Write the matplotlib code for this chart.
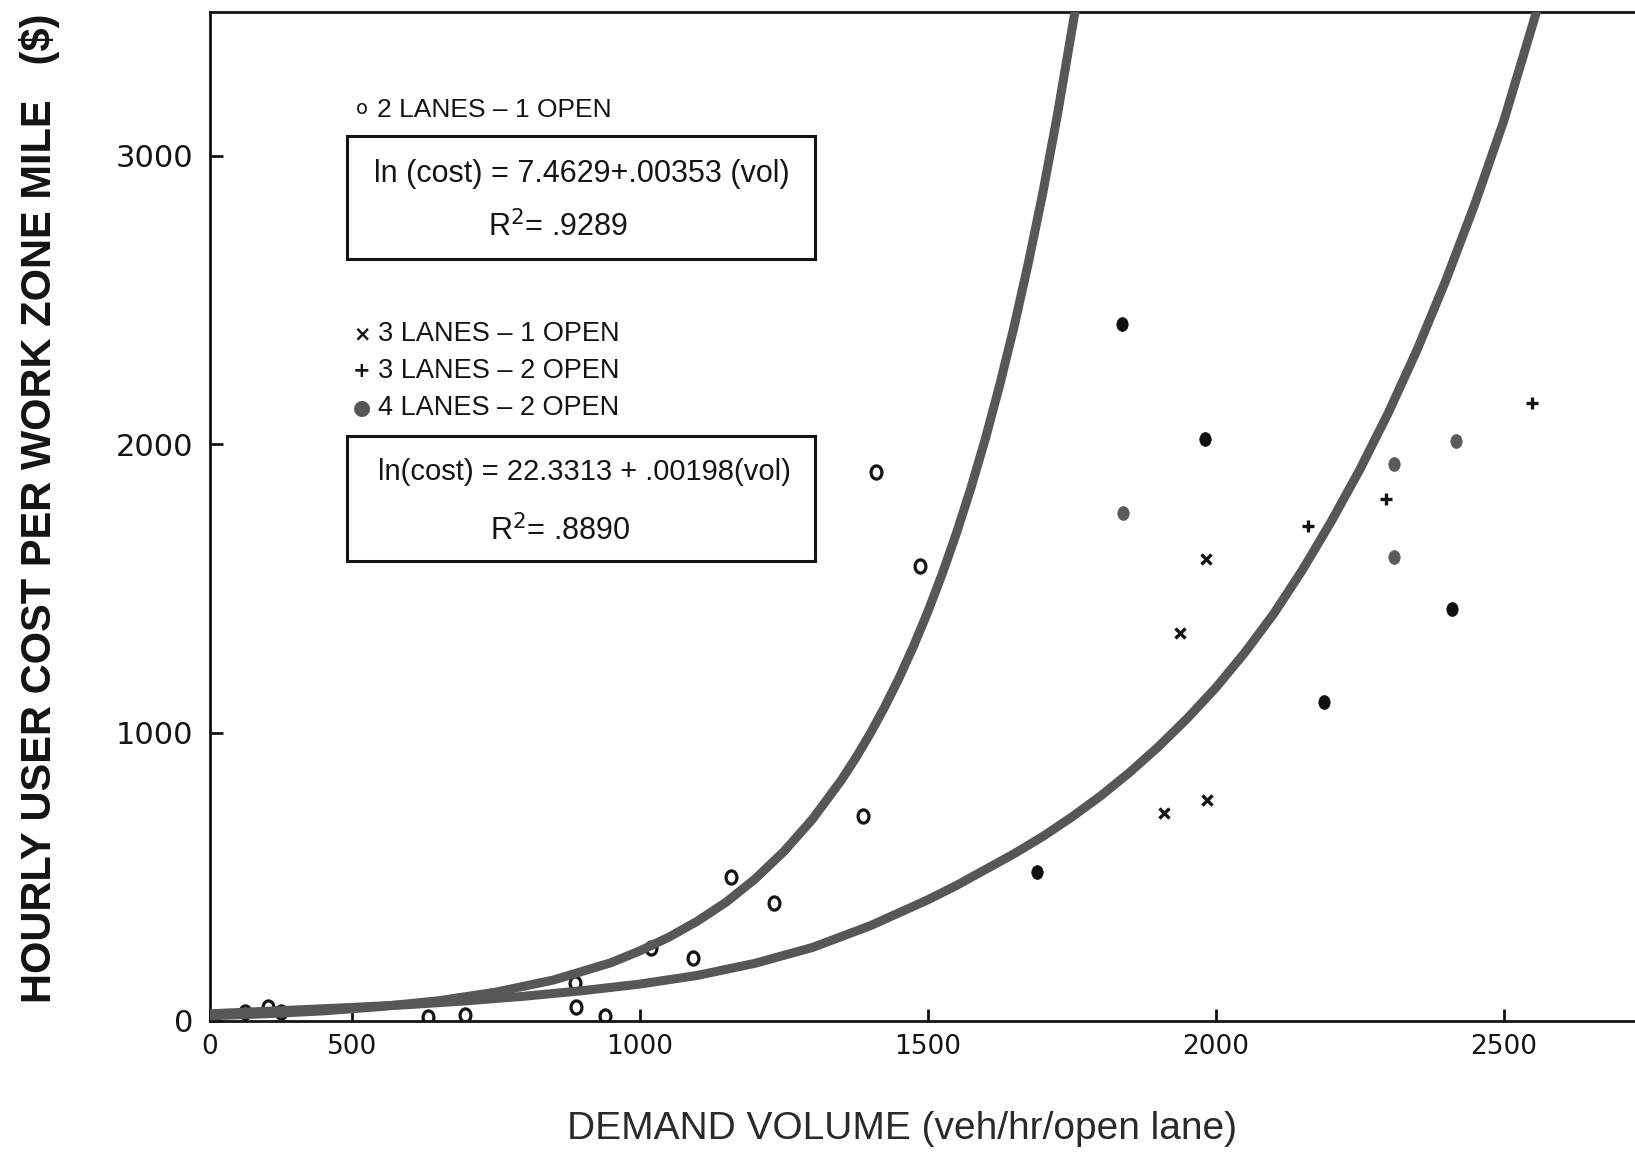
import matplotlib
matplotlib.use("Agg")
import matplotlib.pyplot as plt
from matplotlib.path import Path
from matplotlib.markers import MarkerStyle
from matplotlib.patches import Rectangle
from matplotlib.transforms import Affine2D

# ---------------- data ----------------
vol_2l1o = [314, 355, 378, 632, 696, 887, 890, 939, 1020, 1093, 1159, 1234, 1388, 1410, 1486]
cost_2l1o = [32, 50, 32, 15, 21, 131, 50, 17, 252, 217, 500, 408, 711, 1905, 1578]

vol_3l1o = [1911, 1938, 1983, 1985]
cost_3l1o = [720, 1346, 1601, 766]

vol_3l2o = [2161, 2295, 2550]
cost_3l2o = [1716, 1811, 2142]

vol_4l2o = [1689, 1838, 1982, 2188, 2411, 1839, 2309, 2309, 2418]
cost_4l2o = [518, 2417, 2018, 1107, 1430, 1760, 1930, 1610, 2011]
shade_4l2o = ["dark", "dark", "dark", "dark", "dark", "gray", "gray", "gray", "gray"]

curve1_vol = [254, 350, 450, 550, 650, 750, 850, 950, 1000, 1050, 1100, 1150, 1200, 1250,
              1300, 1350, 1375, 1400, 1425, 1450, 1475, 1500, 1525, 1550, 1575, 1600,
              1625, 1650, 1675, 1700, 1725, 1760]
curve1_cost = [18, 25, 35, 50, 70, 100, 142, 202, 243, 290, 346, 412, 492, 587,
               700, 835, 912, 996, 1088, 1188, 1298, 1418, 1549, 1692, 1848, 2018,
               2205, 2408, 2631, 2873, 3140, 3550]

curve2_vol = [254, 400, 500, 600, 700, 800, 900, 1000, 1100, 1200, 1300, 1400, 1500, 1550,
              1600, 1650, 1700, 1750, 1800, 1850, 1900, 1950, 2000, 2050, 2100, 2150,
              2200, 2250, 2300, 2350, 2400, 2450, 2500, 2560]
curve2_cost = [25, 38, 47, 57, 70, 86, 105, 128, 158, 200, 255, 330, 420, 470,
               525, 580, 640, 707, 780, 861, 950, 1048, 1155, 1276, 1410, 1562,
               1730, 1911, 2110, 2329, 2570, 2833, 3120, 3520]

x_ticks = [254, 500, 1000, 1500, 2000, 2500]
x_tick_labels = ["0", "500", "1000", "1500", "2000", "2500"]
y_ticks = [0, 1000, 2000, 3000]
y_tick_labels = ["0", "1000", "2000", "3000"]

# ---------------- figure ----------------
W, H, DPI = 1635, 1154, 100
fig = plt.figure(figsize=(W / DPI, H / DPI), dpi=DPI)
fig.patch.set_facecolor("white")

def fx(px):
    return px / W

def fy(py):
    return 1 - py / H

ax_left, ax_right, ax_top, ax_bottom = 210, 1660, 12, 1021
ax = fig.add_axes([fx(ax_left), fy(ax_bottom), (ax_right - ax_left) / W, (ax_bottom - ax_top) / H])
ax.set_xlim(254, 254 + (ax_right - ax_left) / 0.576)
ax.set_ylim(0, (ax_bottom - ax_top) / 0.2884)

INK = "#141414"
CURVE = "#575757"
SANS = ["Liberation Sans", "DejaVu Sans"]

# markers
ell = Path.unit_circle().transformed(Affine2D().scale(0.82, 1.0))
ell_marker = MarkerStyle(ell)

ax.plot(vol_2l1o, cost_2l1o, ls="none", marker=ell_marker, ms=9.5, mfc="none",
        mec=INK, mew=2.3, zorder=3)
ax.plot(curve1_vol, curve1_cost, color=CURVE, lw=6.5, solid_capstyle="butt",
        solid_joinstyle="round", zorder=4)
ax.plot(curve2_vol, curve2_cost, color=CURVE, lw=6.5, solid_capstyle="butt",
        solid_joinstyle="round", zorder=4)
ax.plot(vol_3l1o, cost_3l1o, ls="none", marker="x", ms=7, mec=INK, mew=2.4, zorder=5)
ax.plot(vol_3l2o, cost_3l2o, ls="none", marker="+", ms=9, mec=INK, mew=2.4, zorder=5)
dark_v = [v for v, s in zip(vol_4l2o, shade_4l2o) if s == "dark"]
dark_c = [c for c, s in zip(cost_4l2o, shade_4l2o) if s == "dark"]
gray_v = [v for v, s in zip(vol_4l2o, shade_4l2o) if s == "gray"]
gray_c = [c for c, s in zip(cost_4l2o, shade_4l2o) if s == "gray"]
ax.plot(dark_v, dark_c, ls="none", marker=ell_marker, ms=10, mfc="#111111", mec="#111111", mew=0.5, zorder=5)
ax.plot(gray_v, gray_c, ls="none", marker=ell_marker, ms=10, mfc="#5a5a5a", mec="#5a5a5a", mew=0.5, zorder=5)

# spines / ticks
for s in ["left", "top", "bottom"]:
    ax.spines[s].set_linewidth(2.0)
    ax.spines[s].set_color(INK)
ax.spines["right"].set_visible(False)

ax.set_xticks(x_ticks)
ax.set_xticklabels(x_tick_labels)
ax.set_yticks(y_ticks)
ax.set_yticklabels(y_tick_labels)
ax.tick_params(axis="both", direction="in", length=9, width=2, color=INK, colors=INK)
ax.tick_params(axis="x", labelsize=19, pad=9)
ax.tick_params(axis="y", labelsize=22, pad=12)

# axis titles
fig.text(fx(40), fy(508), "HOURLY USER COST PER WORK ZONE MILE   ($)", rotation=90,
         ha="center", va="center", fontsize=30, family=SANS, fontweight="bold", color=INK)
fig.text(fx(902), fy(1129), "DEMAND VOLUME (veh/hr/open lane)", ha="center", va="center",
         fontsize=28, family=SANS, color="#2a2a2a")

# legend-like annotations
fig.text(fx(362), fy(108), "o", ha="center", va="center", fontsize=14, color=INK)
fig.text(fx(377), fy(110), "2 LANES \u2013 1 OPEN", ha="left", va="center", fontsize=19,
         family=SANS, color=INK)
fig.add_artist(Rectangle((fx(347), fy(259)), fx(815) - fx(347), fy(136) - fy(259),
                         transform=fig.transFigure, fill=False, lw=2.2, ec=INK))
fig.text(fx(582), fy(174), "ln (cost) = 7.4629+.00353 (vol)", ha="center", va="center",
         fontsize=22, family=SANS, color=INK)
fig.text(fx(558), fy(227), "R$^2$= .9289", ha="center", va="center",
         fontsize=22, family=SANS, color=INK)

legend_items = [("\u00d7", "3 LANES \u2013 1 OPEN", 334, INK),
                ("+", "3 LANES \u2013 2 OPEN", 371, INK),
                ("\u25cf", "4 LANES \u2013 2 OPEN", 408, "#555555")]
for sym, label, ypx, col in legend_items:
    fig.text(fx(362), fy(ypx), sym, ha="center", va="center", fontsize=15, color=col,
             fontweight="bold")
    fig.text(fx(378), fy(ypx), label, ha="left", va="center", fontsize=19.5, family=SANS, color=INK)

fig.add_artist(Rectangle((fx(347), fy(561)), fx(815) - fx(347), fy(436) - fy(561),
                         transform=fig.transFigure, fill=False, lw=2.2, ec=INK))
fig.text(fx(584), fy(472), "ln(cost) = 22.3313 + .00198(vol)", ha="center", va="center",
         fontsize=21, family=SANS, color=INK)
fig.text(fx(560), fy(531), "R$^2$= .8890", ha="center", va="center",
         fontsize=22, family=SANS, color=INK)

fig.savefig("out.png", dpi=DPI, facecolor="white")
